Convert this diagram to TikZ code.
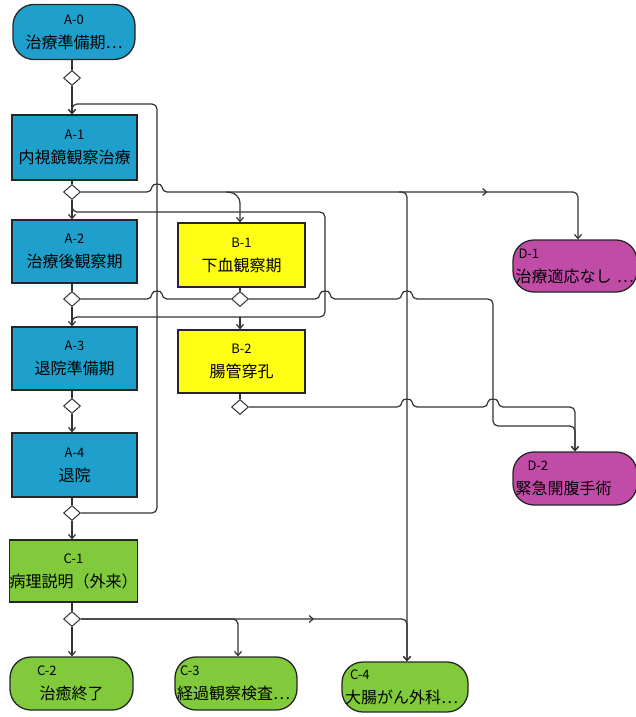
\documentclass[tikz,border=0pt]{standalone}
\usepackage{fontspec}
\setmainfont{Noto Sans CJK JP}
\usetikzlibrary{arrows.meta,shapes.geometric,decorations.markings}
\definecolor{cA}{HTML}{1FA0CC}
\definecolor{cB}{HTML}{FFFF14}
\definecolor{cC}{HTML}{80CA3C}
\definecolor{cD}{HTML}{C04CA8}
\definecolor{ln}{HTML}{333333}
\newcommand{\lb}[1]{{\fontsize{13}{13}\selectfont #1}}
\newcommand{\jp}[1]{{\fontsize{16}{16}\selectfont #1}}
\begin{document}
\begin{tikzpicture}[x=1pt,y=-1pt,
  rectbox/.style={draw=black!85, line width=1.3pt, inner sep=0pt, minimum width=125pt,
     minimum height=64pt, align=center, font=\fontsize{16}{22}\selectfont},
  stad/.style={rectbox, rounded corners=21pt, minimum height=53pt},
  stadl/.style={stad, align=left, text width=#1},
  dia/.style={diamond, draw=ln, fill=white, line width=1pt, minimum width=17pt,
     minimum height=15pt, inner sep=0pt},
  conn/.style={draw=ln, line width=1.2pt, rounded corners=5pt},
  arr/.style={conn, -{Straight Barb[length=4pt,width=7pt]}},
  midarrow/.style={postaction={decorate,decoration={markings,
     mark=at position #1 with {\arrow{Straight Barb[length=4pt,width=7pt]}}}}}
]
\useasboundingbox (0,0) rectangle (636,717);

% A column
\node[stad, fill=cA, minimum width=122pt, minimum height=55pt] (a0) at (74,32) {\lb{A-0}\\[2pt]\jp{治療準備期⋯}};
\node[rectbox, fill=cA, minimum height=65pt] (a1) at (74.5,147.5) {\lb{A-1}\\[2pt]\jp{内視鏡観察治療}};
\node[rectbox, fill=cA, minimum height=63pt] (a2) at (74.5,251.5) {\lb{A-2}\\[2pt]\jp{治療後観察期}};
\node[rectbox, fill=cA, minimum height=63pt] (a3) at (74.5,358.5) {\lb{A-3}\\[2pt]\jp{退院準備期}};
\node[rectbox, fill=cA, minimum height=64pt] (a4) at (74.5,465) {\lb{A-4}\\[2pt]\jp{退院}};
\node[rectbox, fill=cC, minimum width=127pt, minimum height=62pt] (c1) at (73.5,571) {\lb{C-1}\\[2pt]\jp{病理説明（外来）}};

% B column
\node[rectbox, fill=cB, minimum width=127pt, minimum height=64pt] (b1) at (241.5,255) {\lb{B-1}\\[2pt]\jp{下血観察期}};
\node[rectbox, fill=cB, minimum width=127pt, minimum height=63pt] (b2) at (241.5,361.5) {\lb{B-2}\\[2pt]\jp{腸管穿孔}};

% terminal nodes
\node[stadl=117pt, fill=cC, minimum width=123pt] (c2) at (71.5,683.5) {\lb{\hspace*{24pt}C-2}\\[2pt]\hfill\jp{治癒終了}\hfill\null};
\node[stadl=118pt, fill=cC, minimum width=122pt] (c3) at (236,683.5) {\lb{\hspace*{3pt}C-3}\\[2pt]\jp{経過観察検査⋯}};
\node[stadl=120pt, fill=cC, minimum width=126pt, minimum height=50pt] (c4) at (405,687) {\lb{\hspace*{5pt}C-4}\\[2pt]\jp{大腸がん外科⋯}};
\node[stadl=119pt, fill=cD, minimum width=124pt, minimum height=52pt] (d1) at (575,266) {\lb{\hspace*{3pt}D-1}\\[2pt]\jp{治療適応なし ⋯}};
\node[stadl=119pt, fill=cD, minimum width=124pt, minimum height=53pt] (d2) at (575,478.5) {\lb{\hspace*{12pt}D-2}\\[2pt]\jp{緊急開腹手術}};

% diamonds
\node[dia] (da0) at (72,78) {};
\node[dia] (da1) at (72,192) {};
\node[dia] (da2) at (72,299) {};
\node[dia] (da3) at (72,406) {};
\node[dia] (da4) at (72,513) {};
\node[dia] (dc1) at (72,619) {};
\node[dia] (db1) at (240,299) {};
\node[dia] (db2) at (240,407) {};

% junction coordinates
\coordinate (jA2) at (72,204);
\coordinate (jA3) at (72,317);
\coordinate (kD1) at (578,192);
\coordinate (kC4) at (407,192);
\coordinate (kB1) at (226,192);
\coordinate (kC3) at (238,619);
\coordinate (kC4b) at (407,619);

% main column
\draw[conn] (a0.south -| da0) -- (da0.north);
\draw[arr] (da0.south) -- (da0 |- a1.north);
\draw[conn] (a1.south -| da1) -- (da1.north);
\draw[arr] (da1.south) -- (da1 |- a2.north);
\draw[conn] (a2.south -| da2) -- (da2.north);
\draw[arr] (da2.south) -- (da2 |- a3.north);
\draw[conn] (a3.south -| da3) -- (da3.north);
\draw[arr] (da3.south) -- (da3 |- a4.north);
\draw[conn] (a4.south -| da4) -- (da4.north);
\draw[arr] (da4.south) -- (da4 |- c1.north);
\draw[conn] (c1.south -| dc1) -- (dc1.north);
\draw[arr] (dc1.south) -- (dc1 |- c2.north);
\draw[conn] (b1.south -| db1) -- (db1.north);
\draw[conn] (b2.south -| db2) -- (db2.north);

% loop back A-4 -> A-1
\draw[arr] (da4.east) -- (157,513) -- (157,104) -- (72,104) -- (da0 |- a1.north);

% loop lines y=212 / y=317
\draw[conn] (jA2) -- (72,212) -- (325,212) -- (325,317) -- (jA3) -- (72,322);
\draw[arr] (db1 |- jA3) -- (db1 |- b2.north);

% A-1 diamond -> D-1, C-4, B-1
\draw[arr, midarrow=415pt] (da1.east) -- (152,192) .. controls (152,183) and (162,183) .. (162,192) -- (kD1) -- (kD1 |- d1.north);
\draw[arr] (399,192) -- (kC4) -- (kC4 |- c4.north);
\draw[arr] (kB1) .. controls (236,192) and (240,198) .. (240,208) -- (db1 |- b1.north);

% A-2 diamond -> B-1 diamond
\draw[conn] (da2.east) -- (152,299) .. controls (152,290) and (162,290) .. (162,299) -- (db1.west);

% B-1 diamond -> D-2
\draw[arr] (db1.east) -- (320,299) .. controls (320,290) and (330,290) .. (330,299)
   -- (402,299) .. controls (402,290) and (412,290) .. (412,299)
   -- (493,299) -- (493,426) -- (575,426) -- (d2.north);

% B-2 diamond -> D-2
\draw[arr] (db2.east) -- (402,407) .. controls (402,398) and (412,398) .. (412,407)
   -- (488,407) .. controls (488,398) and (498,398) .. (498,407)
   -- (575,407) -- (d2.north);

% C-1 diamond -> C-3, C-4
\draw[arr] (dc1.east) -- (kC3) -- (kC3 |- c3.north);
\draw[arr, midarrow=233pt] (dc1.east) -- (kC4b) -- (kC4b |- c4.north);
\end{tikzpicture}
\end{document}
